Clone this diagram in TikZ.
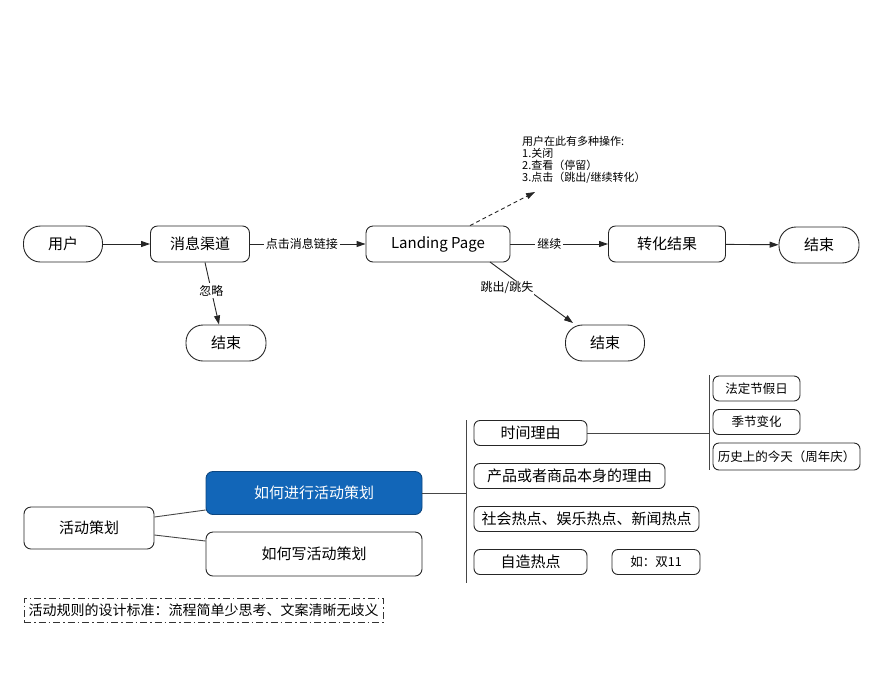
\documentclass[tikz,border=0pt]{standalone}
\usepackage{fontspec}
\setmainfont{Noto Sans CJK SC}
\usetikzlibrary{arrows.meta}
\definecolor{boxblue}{RGB}{18,102,184}
\definecolor{lineg}{RGB}{70,70,70}
\tikzset{
  box/.style={draw=black!85, line width=0.9pt, rounded corners=7pt, align=center, inner sep=0pt, font=\fontsize{15}{18}\selectfont},
  flowbox/.style={box, minimum height=36pt},
  pill/.style={box, minimum height=36pt, rounded corners=17pt},
  mapbox/.style={box, minimum height=25pt, rounded corners=6pt},
  smallbox/.style={mapbox, font=\fontsize{12.5}{15}\selectfont},
  arr/.style={draw=black!85, line width=0.9pt, -{Triangle[length=9pt,width=6pt]}},
  lbl/.style={fill=white, inner sep=2pt, font=\fontsize{12}{14}\selectfont},
  conn/.style={draw=lineg, line width=0.9pt},
}
\begin{document}
\begin{tikzpicture}[x=1pt,y=-1pt]
\useasboundingbox (0,0) rectangle (874,678);
% top flow
\node[pill, minimum width=79pt] (user) at (63,244) {用户};
\node[flowbox, minimum width=99pt] (chan) at (200,244) {消息渠道};
\node[flowbox, minimum width=144pt] (land) at (438,244) {Landing Page};
\node[flowbox, minimum width=117pt] (conv) at (667,244) {转化结果};
\node[pill, minimum width=80pt] (endr) at (819,245) {结束};
\node[pill, minimum width=80pt] (endl) at (226,343) {结束};
\node[pill, minimum width=79pt] (endm) at (605,343) {结束};
\node[anchor=north west, align=left, inner sep=0pt, font=\fontsize{11}{12}\selectfont] (note) at (522,136) {用户在此有多种操作:\\1.关闭\\2.查看（停留）\\3.点击（跳出/继续转化）};
\coordinate (dashend) at (535,192);

\draw[arr] (user) -- (chan);
\draw[arr] (chan) -- node[lbl, pos=0.45] {点击消息链接} (land);
\draw[arr] (chan.south) ++(5,0) coordinate (cs) -- node[lbl, pos=0.45] {忽略} (endl.north -| 219,0);
\draw[arr] (land) -- node[lbl, pos=0.4] {继续} (conv);
\draw[arr] (conv) -- (endr);
\draw[arr] (490,262) coordinate (ls) -- (573,323) coordinate (le);
\node[fill=white, inner sep=1pt, font=\fontsize{12}{14}\selectfont] (jump) at (507,288) {跳出/跳失};
\draw[arr, dashed, dash pattern=on 4pt off 3pt] (land.north -| 470,0) -- (dashend);

% bottom mind map
\node[box, minimum width=130pt, minimum height=42pt] (act) at (89,528) {活动策划};
\node[box, minimum width=216pt, minimum height=43pt, fill=boxblue, draw=boxblue!70!black, text=white] (how) at (314,493) {如何进行活动策划};
\node[box, minimum width=216pt, minimum height=44pt] (write) at (314,554) {如何写活动策划};
\draw[conn] (act.east |- 0,517) -- (how.west |- 0,510);
\draw[conn] (act.east |- 0,535) -- (write.west |- 0,541);

\coordinate (v1t) at (466,420);
\coordinate (v1b) at (466,583);
\draw[conn] (v1t) -- (v1b);
\draw[conn] (how.east) -- (466,493);

\node[mapbox, minimum width=113pt] (time) at (530.5,433) {时间理由};
\node[mapbox, minimum width=191pt] (prod) at (569.5,476) {产品或者商品本身的理由};
\node[mapbox, minimum width=225pt] (hot) at (586.5,519) {社会热点、娱乐热点、新闻热点};
\node[mapbox, minimum width=113pt] (self) at (530.5,562) {自造热点};
\node[smallbox, minimum width=88pt] (d11) at (656,562) {如：双11};

\coordinate (v2t) at (709,375);
\coordinate (v2b) at (709,470);
\draw[conn] (v2t) -- (v2b);
\draw[conn] (time.east) -- (709,433);
\node[smallbox, minimum width=87pt] (hol) at (756.5,388.5) {法定节假日};
\node[smallbox, minimum width=87pt] (season) at (756.5,422) {季节变化};
\node[smallbox, minimum width=147pt, minimum height=27pt] (hist) at (786.5,456.5) {历史上的今天（周年庆）};

\node[draw=black!80, line width=0.9pt, dash pattern=on 7pt off 3pt on 1.5pt off 3pt, minimum width=359pt, minimum height=24pt, inner sep=0pt, font=\fontsize{14}{16}\selectfont] (rule) at (203.5,610) {活动规则的设计标准：流程简单少思考、文案清晰无歧义};
\end{tikzpicture}
\end{document}
